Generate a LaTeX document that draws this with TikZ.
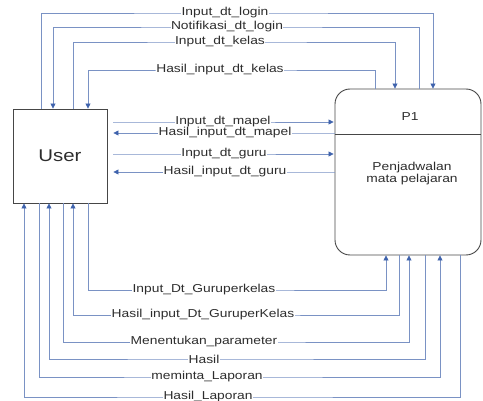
\documentclass[tikz,border=0pt]{standalone}
\usepackage{fontspec}
\setmainfont[FakeStretch=1.2]{Liberation Sans}
\usetikzlibrary{arrows.meta}
\definecolor{flowline}{RGB}{122,146,196}
\definecolor{flowtip}{RGB}{62,98,172}
\definecolor{boxline}{RGB}{70,70,70}
\definecolor{txt}{RGB}{45,45,45}
\tikzset{
  flow/.style={draw=flowline, line width=0.8pt},
  tohead/.style={-{Triangle[length=5pt,width=5pt,color=flowtip]}},
  lbl/.style={fill=white, text=txt, font=\fontsize{11.5}{12}\selectfont,
    inner sep=0.5pt, outer sep=0pt},
  entity/.style={draw=boxline, line width=0.9pt, minimum width=94pt,
    minimum height=94pt, inner sep=0pt, text=txt,
    font=\fontsize{17}{19}\selectfont},
  process/.style={draw=boxline, line width=0.9pt, rounded corners=15pt,
    minimum width=146pt, minimum height=166pt, inner sep=0pt},
  ptext/.style={text=txt, font=\fontsize{11.5}{12}\selectfont, inner sep=0pt,
    align=center}
}
\begin{document}
\begin{tikzpicture}[x=1pt, y=-1pt]
\useasboundingbox (0,0) rectangle (483,401);

% external entity and process
\node[entity] (user) at (60,156) {User};
\node[process] (p1) at (408,172) {};
\draw[draw=boxline, line width=0.9pt] (p1.west |- 0,134) -- (p1.east |- 0,134);
\node[ptext] (p1id) at (410,117) {P1};
\node[ptext] (p1name) at (412,174) {Penjadwalan\\mata pelajaran};

% flows over the top
\draw[flow, tohead] (user.north -| 41,0) -- (41,13) -- (225,13)
  node[lbl] {Input\_dt\_login} -- (433,13) -- (p1.north -| 433,0);
\draw[flow, tohead] (p1.north -| 419,0) -- (419,27) -- (227,27)
  node[lbl] {Notifikasi\_dt\_login} -- (53,27) -- (user.north -| 53,0);
\draw[flow, tohead] (user.north -| 73,0) -- (73,42) -- (220,42)
  node[lbl] {Input\_dt\_kelas} -- (395,42) -- (p1.north -| 395,0);
\draw[flow, tohead] (p1.north -| 375,0) -- (375,70) -- (220,70)
  node[lbl] {Hasil\_input\_dt\_kelas} -- (88,70) -- (user.north -| 88,0);

% straight flows between the two
\draw[flow, tohead, shorten <=6pt, shorten >=1pt] (user.east |- 0,122) -- (223,122)
  node[lbl] {Input\_dt\_mapel} -- (p1.west |- 0,122);
\draw[flow, tohead, shorten >=6pt] (p1.west |- 0,133) -- (225,133)
  node[lbl] {Hasil\_input\_dt\_mapel} -- (user.east |- 0,133);
\draw[flow, tohead, shorten <=6pt, shorten >=1pt] (user.east |- 0,154) -- (224,154)
  node[lbl] {Input\_dt\_guru} -- (p1.west |- 0,154);
\draw[flow, tohead, shorten >=6pt] (p1.west |- 0,172) -- (225,172)
  node[lbl] {Hasil\_input\_dt\_guru} -- (user.east |- 0,172);

% flows underneath
\draw[flow, tohead] (user.south -| 88,0) -- (88,290) -- (204,290)
  node[lbl] {Input\_Dt\_Guruperkelas} -- (386,290) -- (p1.south -| 386,0);
\draw[flow, tohead] (p1.south -| 399,0) -- (399,315) -- (203,315)
  node[lbl] {Hasil\_input\_Dt\_GuruperKelas} -- (73,315) -- (user.south -| 73,0);
\draw[flow, tohead] (user.south -| 63,0) -- (63,342) -- (204,342)
  node[lbl] {Menentukan\_parameter} -- (409,342) -- (p1.south -| 409,0);
\draw[flow, tohead] (p1.south -| 425,0) -- (425,359) -- (204,359)
  node[lbl] {Hasil} -- (49,359) -- (user.south -| 49,0);
\draw[flow, tohead] (user.south -| 39,0) -- (39,377) -- (207,377)
  node[lbl] {meminta\_Laporan} -- (440,377) -- (p1.south -| 440,0);
\draw[flow, tohead] (p1.south -| 460,0) -- (460,397) -- (208,397)
  node[lbl] {Hasil\_Laporan} -- (24,397) -- (user.south -| 24,0);
\end{tikzpicture}
\end{document}
